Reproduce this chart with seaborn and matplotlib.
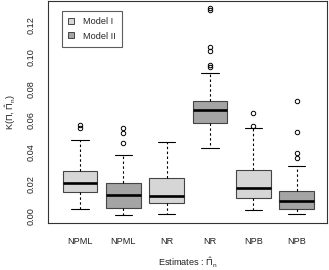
import numpy as np
import pandas as pd
import matplotlib
matplotlib.use("Agg")
import matplotlib.pyplot as plt
from matplotlib.patches import Patch
import seaborn as sns

sns.set_style("white")
plt.rcParams['font.family'] = ['Liberation Sans', 'DejaVu Sans']
plt.rcParams['mathtext.fontset'] = 'custom'
plt.rcParams['mathtext.rm'] = 'Liberation Sans'
plt.rcParams['mathtext.it'] = 'Liberation Sans'

# box summaries
groups = ["NPML", "NPML", "NR", "NR", "NPB", "NPB"]
models = ["Model I", "Model II", "Model I", "Model II", "Model I", "Model II"]
lower_whisker = [0.0040, 0.0004, 0.0011, 0.0428, 0.0034, 0.0009]
q1 = [0.0149, 0.0047, 0.0078, 0.0585, 0.0113, 0.0040]
median = [0.0208, 0.0128, 0.0124, 0.0665, 0.0172, 0.0093]
q3 = [0.0283, 0.0208, 0.0239, 0.0722, 0.0288, 0.0155]
upper_whisker = [0.0474, 0.0382, 0.0466, 0.0900, 0.0550, 0.0315]
outliers = [
    [0.0550, 0.0570],
    [0.0456, 0.0522, 0.0550],
    [],
    [0.0935, 0.0950, 0.1035, 0.1060, 0.1295, 0.1310],
    [0.0565, 0.0648],
    [0.0361, 0.0397, 0.0529, 0.0722],
]
colors = {"Model I": "#d6d6d6", "Model II": "#a4a4a4"}

# rebuild small samples whose quartiles / whiskers match the summaries
rows = []
for i in range(len(groups)):
    vals = ([lower_whisker[i]] + [q1[i]] * 10 + [median[i]] * 10
            + [q3[i]] * 10 + [upper_whisker[i]] + outliers[i])
    for v in vals:
        rows.append({"pos": str(i), "model": models[i], "value": v})
df = pd.DataFrame(rows)

fig = plt.figure(figsize=(3.29, 2.70), dpi=100)
ax = fig.add_axes([0.146, 0.175, 0.848, 0.821])

edge = "#444444"
sns.boxplot(data=df, x="pos", y="value", hue="model", dodge=False,
            order=[str(i) for i in range(6)], palette=colors, width=0.8,
            whis=1.5, linecolor=edge, linewidth=0.8, ax=ax, legend=False,
            medianprops=dict(color="black", linewidth=1.9),
            whiskerprops=dict(color="black", linestyle=(0, (2.2, 2.2)), linewidth=0.8),
            capprops=dict(color="black", linewidth=0.8),
            flierprops=dict(marker="o", markersize=3.2, markerfacecolor="none",
                            markeredgecolor="black", markeredgewidth=0.7))

ax.set_xlim(-0.74, 5.70)
ax.set_ylim(-0.0044, 0.1351)
ax.set_yticks(np.arange(0, 0.121, 0.02))
ax.set_yticklabels([f"{t:.2f}" for t in np.arange(0, 0.121, 0.02)],
                   rotation=90, va="center")
ax.set_xticks(range(6))
ax.set_xticklabels(groups)
ax.tick_params(axis="both", direction="out", length=5, width=0.8,
               color="#333333", labelsize=6.6, labelcolor="#222222")
ax.tick_params(axis="y", pad=4)
ax.tick_params(axis="x", pad=5)
for s in ax.spines.values():
    s.set_color("#333333")
    s.set_linewidth(0.8)

ax.set_xlabel(r"Estimates : $\hat{\Pi}_n$", fontsize=6.6, color="#222222")
ax.set_ylabel(r"K($\Pi$, $\hat{\Pi}_n$)", fontsize=6.6, color="#222222")
ax.xaxis.set_label_coords(0.5, -0.15)
ax.yaxis.set_label_coords(-0.108, 0.5)

handles = [Patch(facecolor=colors[m], edgecolor=edge, linewidth=0.7, label=m)
           for m in ["Model I", "Model II"]]
leg = ax.legend(handles=handles, loc="upper left", bbox_to_anchor=(0.05, 0.955),
                fontsize=6.6, frameon=True, fancybox=False, handlelength=0.6,
                handleheight=0.6, handletextpad=1.0, borderpad=0.7,
                labelspacing=0.55, borderaxespad=0)
leg.get_frame().set_edgecolor("#333333")
leg.get_frame().set_linewidth(0.8)

fig.savefig("out.png", dpi=100)
